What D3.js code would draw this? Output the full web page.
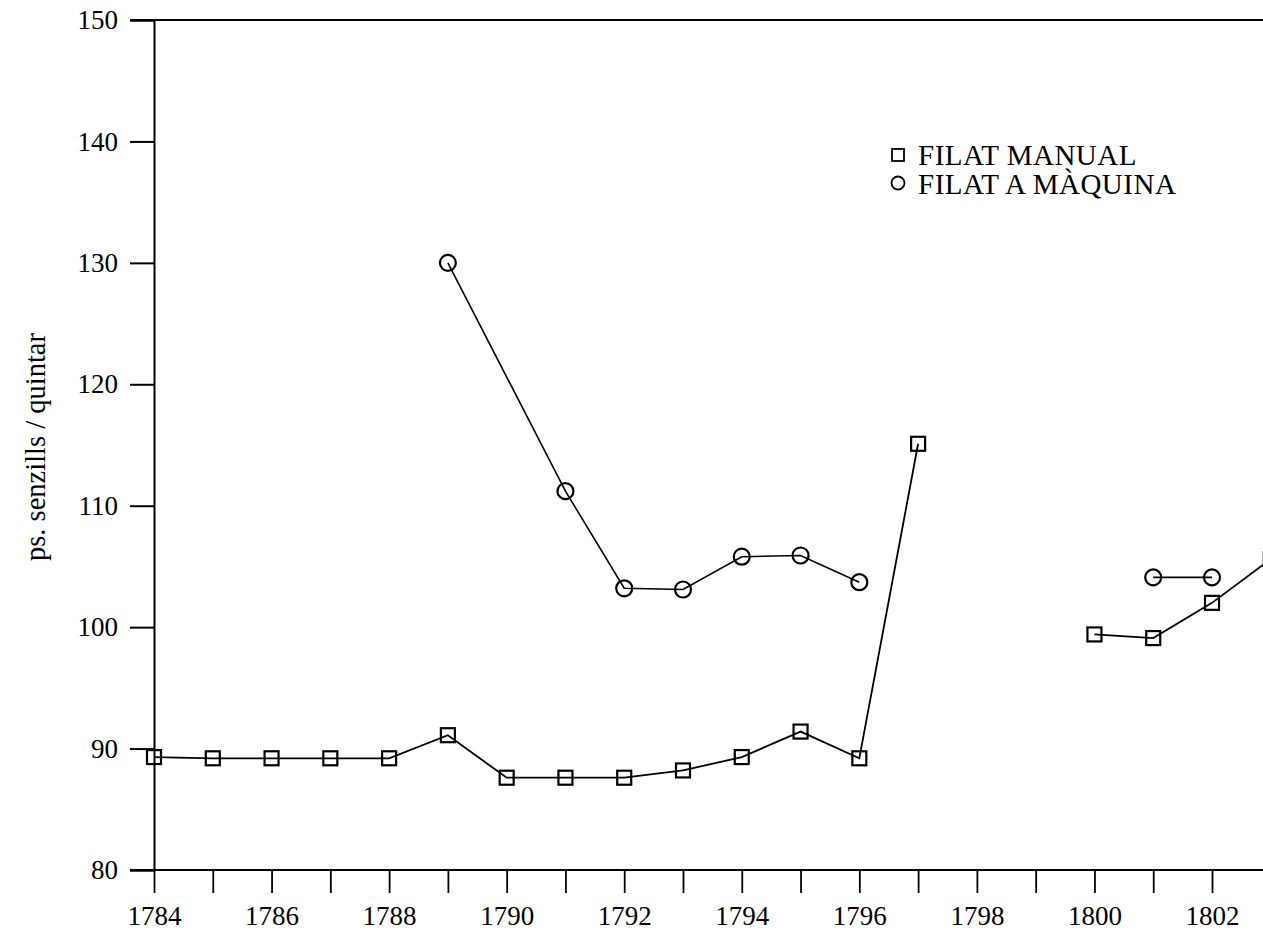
<!DOCTYPE html>
<html><head><meta charset="utf-8">
<script src="https://cdn.jsdelivr.net/npm/d3@7"></script>
<style>
html,body{margin:0;padding:0;background:#fff;}
svg{display:block;font-family:"Liberation Serif","Times New Roman",serif;}
</style></head>
<body>
<svg id="c" width="1263" height="931"></svg>
<script>
// Data
const manualYears  = [1784,1785,1786,1787,1788,1789,1790,1791,1792,1793,1794,1795,1796,1797,1798,1799,1800,1801,1802,1803];
const manualValues = [89.3,89.2,89.2,89.2,89.2,91.1,87.6,87.6,87.6,88.2,89.3,91.4,89.2,115.1,null,null,99.4,99.1,102.0,105.6];
const machineYears  = [1789,1791,1792,1793,1794,1795,1796,1797,1798,1799,1800,1801,1802];
const machineValues = [130.0,111.2,103.2,103.1,105.8,105.9,103.7,null,null,null,null,104.1,104.1];
const yTickValues = [80,90,100,110,120,130,140,150];
const xTickYears = d3.range(1784,1804);
const seriesNames = ["FILAT MANUAL","FILAT A MÀQUINA"];
const yTitle = "ps. senzills / quintar";

const svg = d3.select("#c");
const W = 1263;
const x = d3.scaleLinear().domain([1784,1802]).range([154,1212]);
const y = d3.scaleLinear().domain([80,150]).range([870,20]);

svg.append("defs").append("clipPath").attr("id","clip")
  .append("rect").attr("x",0).attr("y",0).attr("width",W).attr("height",931);

// frame lines
svg.append("line").attr("x1",130).attr("x2",W).attr("y1",y(150)).attr("y2",y(150))
  .attr("stroke","#000").attr("stroke-width",2);
svg.append("line").attr("x1",130).attr("x2",W).attr("y1",y(80)).attr("y2",y(80))
  .attr("stroke","#000").attr("stroke-width",2);

// y axis
const yAxis = svg.append("g").attr("transform","translate(154,0)")
  .call(d3.axisLeft(y).tickValues(yTickValues).tickSize(24).tickPadding(12).tickFormat(d3.format("d")));
yAxis.select(".domain").attr("stroke-width",2);
yAxis.selectAll(".tick line").attr("stroke-width",2);
yAxis.selectAll("text").attr("font-size",27).attr("font-family","Liberation Serif, serif").attr("fill","#000");

// x axis
const xAxis = svg.append("g").attr("transform",`translate(0,${y(80)})`)
  .call(d3.axisBottom(x).tickValues(xTickYears).tickSize(23).tickPadding(13)
    .tickFormat(d => d % 2 === 0 ? String(d) : ""));
xAxis.select(".domain").remove();
xAxis.selectAll(".tick line").attr("stroke-width",1.8);
xAxis.selectAll("text").attr("font-size",27).attr("font-family","Liberation Serif, serif").attr("fill","#000");

// y title
svg.append("text").attr("transform","translate(45,447) rotate(-90)")
  .attr("text-anchor","middle").attr("font-size",28.5).attr("fill","#000").text(yTitle);

const plot = svg.append("g").attr("clip-path","url(#clip)");

const manual = manualYears.map((yr,i)=>({yr, v: manualValues[i]}));
const machine = machineYears.map((yr,i)=>({yr, v: machineValues[i]}));

const line = d3.line().defined(d=>d.v!==null).x(d=>x(d.yr)).y(d=>y(d.v));

plot.append("path").datum(manual).attr("d",line).attr("fill","none").attr("stroke","#000").attr("stroke-width",1.8);
plot.append("path").datum(machine).attr("d",line).attr("fill","none").attr("stroke","#000").attr("stroke-width",1.6);

const s = 14;
plot.selectAll("rect.m").data(manual.filter(d=>d.v!==null)).join("rect").attr("class","m")
  .attr("x",d=>x(d.yr)-s/2).attr("y",d=>y(d.v)-s/2).attr("width",s).attr("height",s)
  .attr("fill","none").attr("stroke","#000").attr("stroke-width",2.2);
plot.selectAll("circle.k").data(machine.filter(d=>d.v!==null)).join("circle").attr("class","k")
  .attr("cx",d=>x(d.yr)).attr("cy",d=>y(d.v)).attr("r",8)
  .attr("fill","none").attr("stroke","#000").attr("stroke-width",2.2);

// legend
const lg = svg.append("g");
lg.append("rect").attr("x",892).attr("y",149).attr("width",12).attr("height",12)
  .attr("fill","none").attr("stroke","#000").attr("stroke-width",1.8);
lg.append("circle").attr("cx",898).attr("cy",183).attr("r",6.5)
  .attr("fill","none").attr("stroke","#000").attr("stroke-width",1.8);
lg.append("text").attr("x",918).attr("y",165).attr("font-size",29).attr("letter-spacing",0.5).attr("fill","#000").text(seriesNames[0]);
lg.append("text").attr("x",918).attr("y",194).attr("font-size",29).attr("letter-spacing",0.5).attr("fill","#000").text(seriesNames[1]);
</script>
</body></html>
